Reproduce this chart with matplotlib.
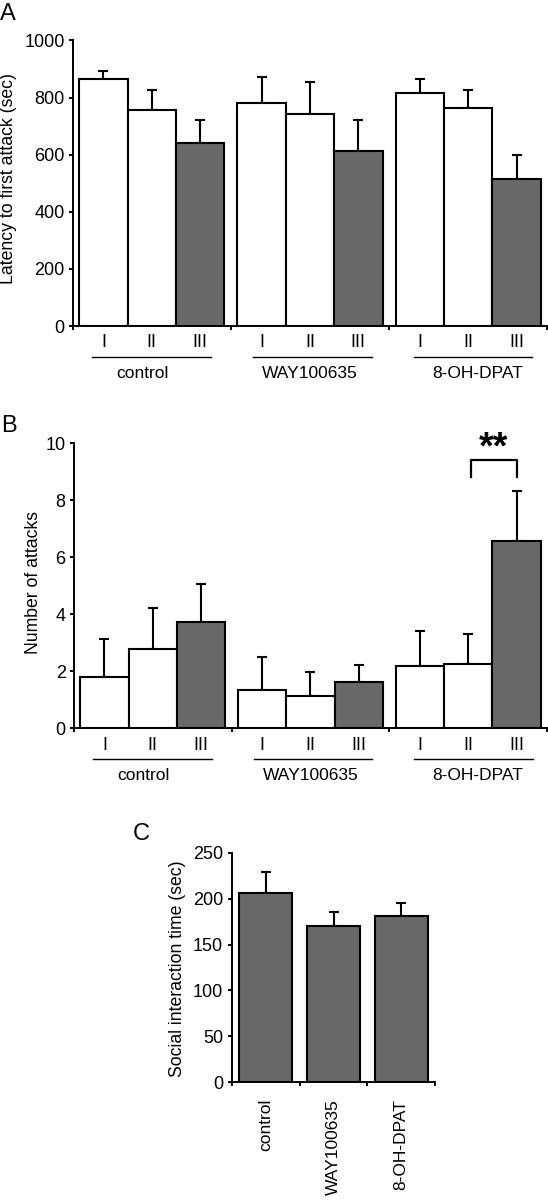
import numpy as np
import matplotlib.pyplot as plt
from matplotlib.transforms import blended_transform_factory

plt.rcParams['font.family'] = ['Liberation Sans', 'DejaVu Sans']

# data
groups = ['control', 'WAY100635', '8-OH-DPAT']
sessions = ['I', 'II', 'III']

latency_mean = [[864, 756, 641], [780, 741, 612], [816, 763, 516]]
latency_top = [[893, 826, 723], [872, 853, 721], [864, 826, 599]]

attacks_mean = [[1.79, 2.80, 3.73], [1.35, 1.12, 1.61], [2.20, 2.26, 6.58]]
attacks_top = [[3.15, 4.23, 5.08], [2.49, 1.96, 2.22], [3.43, 3.30, 8.33]]

social_mean = [205.8, 169.9, 181.2]
social_top = [229, 185, 195]

white = 'white'
grey = '#686868'
gstep = 3.27
line_shift = [0.0, 0.05, 0.1]
label_shift = [-0.19, 0.0, 0.19]

W, H = 548, 1200
fig = plt.figure(figsize=(W / 100, H / 100), dpi=100)

ekw = dict(ecolor='black', elinewidth=1.5, capsize=3.6, capthick=1.5, zorder=1)


def style_axes(ax):
    for s in ['top', 'right']:
        ax.spines[s].set_visible(False)
    for s in ['left', 'bottom']:
        ax.spines[s].set_linewidth(1.4)
    ax.tick_params(axis='x', which='major', length=3, width=1.4, direction='out')
    ax.tick_params(axis='y', length=3, width=1.4, labelsize=13, pad=3)


def grouped(ax, means, tops, ymax, ystep):
    for g in range(3):
        for j in range(3):
            x = g * gstep + j
            m = means[g][j]
            e = tops[g][j] - m
            c = grey if j == 2 else white
            ax.bar(x, m, width=1.0, color=c, edgecolor='black', linewidth=1.5,
                   yerr=[[0], [e]], zorder=2, error_kw=ekw)
    right = 2 * gstep + 2.5 + 0.13
    ax.set_xlim(-0.63, right)
    ax.set_ylim(0, ymax)
    ax.set_yticks(np.arange(0, ymax + 1e-9, ystep))
    ax.set_xticks([-0.63, 2.5 + (gstep - 3) / 2, gstep + 2.5 + (gstep - 3) / 2, right])
    ax.set_xticklabels([])
    centers = [g * gstep + j for g in range(3) for j in range(3)]
    ax.set_xticks(centers, minor=True)
    ax.set_xticklabels(sessions * 3, minor=True)
    ax.tick_params(axis='x', which='minor', length=0, pad=6, labelsize=13)
    style_axes(ax)
    tr = blended_transform_factory(ax.transData, ax.transAxes)
    for g, name in enumerate(groups):
        c = g * gstep + 1
        lc = c + line_shift[g]
        ax.plot([lc - 1.23, lc + 1.23], [-0.109, -0.109], color='black', lw=1.0,
                transform=tr, clip_on=False)
        ax.text(c + label_shift[g], -0.182, name, transform=tr, ha='center',
                va='baseline', fontsize=12.5)


# Panel A
axA = fig.add_axes([73 / W, 1 - 326 / H, 474 / W, 285.5 / H])
grouped(axA, latency_mean, latency_top, 1000, 200)
fig.text(9 / W, 1 - 178 / H, 'Latency to first attack (sec)', rotation=90,
         ha='center', va='center', fontsize=12.7)
fig.text(0 / W, 1 - 20 / H, 'A', ha='left', va='baseline', fontsize=17)

# Panel B
axB = fig.add_axes([74 / W, 1 - 728.3 / H, 473 / W, 285 / H])
grouped(axB, attacks_mean, attacks_top, 10, 2)
fig.text(34 / W, 1 - 583 / H, 'Number of attacks', rotation=90,
         ha='center', va='center', fontsize=12.7)
fig.text(1 / W, 1 - 431.5 / H, 'B', ha='left', va='baseline', fontsize=17)
x1, x2 = 2 * gstep + 1.05, 2 * gstep + 2
axB.plot([x1, x1, x2, x2], [8.83, 9.41, 9.41, 8.83], color='black', lw=1.6, clip_on=False)
axB.text((x1 + x2) / 2, 9.45, '**', ha='center', va='baseline', fontsize=27, fontweight='bold')

# Panel C
axC = fig.add_axes([231.5 / W, 1 - 1082.3 / H, 203.5 / W, 229.6 / H])
xc = [0, 1.28, 2.56]
axC.bar(xc, social_mean, width=1.0, color=grey, edgecolor='black', linewidth=1.5,
        yerr=[[0] * 3, [t - m for t, m in zip(social_top, social_mean)]], zorder=2,
        error_kw=ekw)
axC.set_xlim(-0.65, 3.2)
axC.set_ylim(0, 250)
axC.set_yticks(np.arange(0, 251, 50))
axC.set_xticks([-0.65, 0.64, 1.92, 3.2])
axC.set_xticklabels([])
axC.set_xticks(xc, minor=True)
axC.set_xticklabels(groups, minor=True, rotation=90, va='top', ha='center')
axC.tick_params(axis='x', which='minor', length=0, pad=12, labelsize=12.5)
style_axes(axC)
fig.text(178 / W, 1 - 969 / H, 'Social interaction time (sec)', rotation=90,
         ha='center', va='center', fontsize=12.7)
fig.text(133 / W, 1 - 840 / H, 'C', ha='left', va='baseline', fontsize=17)

fig.savefig('out.png', dpi=100)
